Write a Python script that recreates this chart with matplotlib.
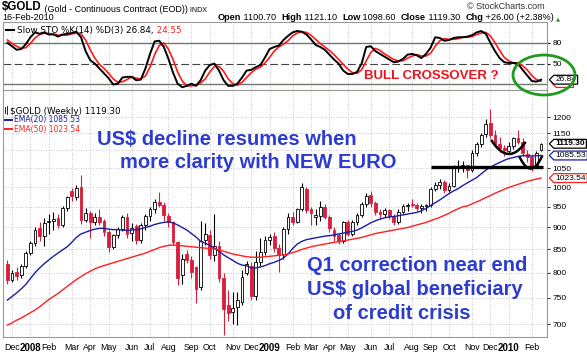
import numpy as np
import pandas as pd
import matplotlib
matplotlib.use("Agg")
import matplotlib.pyplot as plt
from matplotlib.path import Path
from matplotlib.patches import Ellipse
from matplotlib.ticker import FixedLocator, NullLocator, FixedFormatter

# weekly bars, last one is the week in progress (16-Feb-2010)
weeks = pd.date_range("2007-11-30", "2010-02-19", freq="W-FRI")

opens = [818, 786, 802, 795, 815, 843, 864, 898, 881, 913,
         915, 922, 905, 946, 990, 975, 1000, 918, 934, 912,
         925, 915, 890, 855, 882, 896, 925, 888, 903, 872,
         905, 928, 945, 963, 955, 928, 912, 866, 795, 840,
         828, 812, 770, 872, 882, 838, 858, 790, 735, 722,
         732, 742, 800, 815, 752, 823, 845, 872, 880, 853,
         840, 896, 926, 914, 945, 995, 945, 925, 928, 950,
         924, 895, 882, 870, 912, 886, 914, 930, 958, 980,
         960, 937, 932, 942, 928, 912, 938, 952, 958, 955,
         946, 952, 955, 996, 1005, 1012, 992, 1003, 1050, 1055,
         1058, 1045, 1092, 1118, 1148, 1180, 1145, 1120, 1108, 1098,
         1112, 1137, 1125, 1090, 1080, 1058, 1100.70]
highs = [826, 806, 812, 818, 846, 870, 900, 914, 922, 932,
         938, 932, 952, 978, 998, 1005, 1033, 948, 940, 935,
         945, 920, 895, 886, 900, 930, 935, 910, 908, 910,
         932, 950, 970, 988, 962, 935, 915, 870, 840, 848,
         835, 815, 915, 910, 895, 932, 868, 800, 765, 760,
         760, 805, 825, 822, 846, 875, 880, 885, 890, 862,
         900, 935, 938, 948, 1010, 1000, 950, 945, 965, 958,
         930, 900, 888, 915, 918, 918, 935, 962, 985, 990,
         965, 945, 948, 945, 932, 945, 958, 960, 970, 960,
         958, 958, 1000, 1012, 1020, 1018, 1010, 1058, 1072, 1070,
         1060, 1100, 1125, 1152, 1195, 1226, 1160, 1140, 1115, 1125,
         1140, 1160, 1135, 1100, 1090, 1098, 1121.10]
lows = [776, 781, 786, 790, 810, 838, 858, 868, 858, 885,
        895, 898, 900, 940, 965, 968, 908, 912, 876, 905,
        905, 880, 845, 850, 875, 892, 875, 868, 862, 865,
        895, 915, 935, 950, 915, 900, 860, 775, 777, 820,
        790, 740, 765, 860, 830, 825, 780, 681, 705, 700,
        698, 735, 795, 745, 745, 815, 838, 860, 845, 802,
        830, 885, 905, 910, 940, 935, 905, 905, 915, 920,
        890, 870, 862, 865, 880, 880, 905, 925, 950, 950,
        930, 920, 925, 920, 905, 908, 932, 940, 950, 940,
        935, 940, 950, 990, 995, 985, 988, 1000, 1040, 1040,
        1025, 1040, 1085, 1110, 1140, 1135, 1110, 1095, 1085, 1090,
        1105, 1120, 1085, 1068, 1044, 1050, 1098.60]
closes = [785, 800, 794, 814, 842, 865, 895, 880, 911, 916,
          921, 905, 946, 975, 978, 998, 918, 934, 912, 925,
          912, 890, 855, 882, 896, 925, 886, 898, 872, 905,
          928, 945, 963, 955, 930, 912, 866, 790, 830, 828,
          802, 767, 870, 885, 838, 858, 790, 728, 720, 730,
          745, 792, 818, 752, 823, 845, 872, 878, 853, 840,
          896, 926, 914, 945, 1000, 942, 935, 930, 950, 924,
          898, 880, 868, 912, 886, 914, 930, 958, 978, 960,
          937, 932, 942, 928, 912, 938, 952, 955, 955, 946,
          952, 955, 996, 1006, 1012, 992, 1003, 1050, 1055, 1058,
          1045, 1092, 1118, 1145, 1178, 1145, 1120, 1108, 1100, 1112,
          1137, 1125, 1092, 1080, 1055, 1093.30, 1119.30]

ema20 = [745, 752, 759, 767, 776, 788, 800, 810, 819, 827,
         835, 842, 849, 856, 866, 877, 885, 889, 893, 896,
         898, 898, 896, 895, 895, 894, 893, 894, 895, 897,
         900, 903, 907, 910, 912, 913, 911, 906, 900, 894,
         886, 878, 868, 864, 859, 853, 846, 838, 832, 826,
         820, 816, 815, 810, 810, 812, 815, 819, 822, 826,
         831, 840, 852, 862, 868, 872, 874, 876, 878, 880,
         881, 883, 885, 887, 889, 891, 894, 899, 905, 911,
         916, 920, 923, 925, 926, 928, 930, 932, 934, 936,
         940, 946, 953, 960, 967, 975, 983, 990, 996, 1004,
         1011, 1018, 1025, 1035, 1045, 1053, 1060, 1066, 1072, 1077,
         1080, 1083, 1085, 1085, 1084, 1085, 1085.53]
ema50 = [698, 702, 707, 711, 716, 721, 726, 732, 739, 746,
         752, 758, 765, 772, 779, 786, 792, 798, 803, 808,
         812, 815, 818, 821, 824, 827, 830, 833, 836, 839,
         842, 846, 850, 854, 857, 859, 860, 859, 858, 857,
         856, 855, 854, 853, 852, 851, 849, 846, 843, 840,
         838, 836, 834, 833, 833, 833, 834, 835, 836, 837,
         838, 840, 843, 846, 850, 853, 856, 858, 860, 862,
         864, 866, 867, 869, 871, 873, 875, 877, 880, 883,
         886, 888, 890, 892, 894, 896, 898, 900, 903, 906,
         909, 912, 916, 920, 924, 929, 934, 940, 945, 950,
         952, 957, 962, 967, 973, 978, 984, 989, 994, 999,
         1003, 1007, 1011, 1015, 1018, 1021, 1023.54]

sto_k = [80, 75, 70, 71, 78, 88, 95, 93, 95, 92,
         92, 89, 92, 93, 94, 96, 88, 68, 55, 50,
         43, 36, 29, 20, 21, 30, 31, 31, 26, 27,
         43, 64, 82, 83, 74, 57, 37, 21, 16, 18,
         21, 18, 26, 40, 48, 50, 40, 26, 18, 18,
         21, 30, 40, 41, 45, 48, 59, 71, 74, 76,
         84, 90, 95, 97, 96, 92, 85, 77, 74, 70,
         63, 56, 50, 40, 35, 35, 38, 50, 74, 75,
         68, 64, 60, 56, 52, 53, 57, 63, 64, 62,
         58, 64, 73, 88, 87, 83, 84, 87, 88, 88,
         89, 91, 95, 97, 93, 80, 68, 58, 52, 51,
         51, 50, 41, 33, 25, 24, 26.84]
sto_d = [84, 79, 75, 72, 73, 79, 87, 92, 94, 93,
         93, 91, 91, 91, 93, 94, 93, 84, 70, 58,
         49, 43, 36, 28, 23, 24, 27, 31, 29, 28,
         32, 45, 63, 76, 80, 71, 56, 38, 25, 18,
         18, 19, 22, 28, 38, 46, 46, 39, 28, 21,
         19, 23, 30, 37, 42, 45, 51, 59, 68, 74,
         78, 83, 90, 94, 96, 95, 91, 85, 79, 74,
         69, 63, 56, 49, 42, 37, 36, 41, 54, 66,
         72, 69, 64, 60, 56, 54, 54, 58, 61, 63,
         61, 61, 65, 75, 83, 86, 85, 85, 86, 88,
         88, 89, 92, 94, 95, 90, 80, 69, 59, 54,
         51, 51, 47, 41, 33, 27, 24.55]

month_labels = ["Dec", "2008", "Feb", "Mar", "Apr", "May", "Jun", "Jul", "Aug",
                "Sep", "Oct", "Nov", "Dec", "2009", "Feb", "Mar", "Apr", "May",
                "Jun", "Jul", "Aug", "Sep", "Oct", "Nov", "Dec", "2010", "Feb"]
price_ticks = [700, 750, 800, 850, 900, 950, 1000, 1050, 1100, 1150, 1200]
price_labels = ["700", "750", "800", "850", "900", "950", "1000", "1050", "", "1150", "1200"]

# ---------------------------------------------------------------
W, H = 587, 355
fx = lambda x: x / W
fy = lambda y: 1 - y / H

RED = "#d81e3c"
BLUE_TXT = "#2b3ccf"
GRID = "#bcaec4"
SANS = "Liberation Sans"

fig = plt.figure(figsize=(W / 100, H / 100), dpi=100)
fig.patch.set_facecolor("white")
L, R = 3, 547
ax_s = fig.add_axes([fx(L), fy(90), (R - L) / W, 68 / H])
ax = fig.add_axes([fx(L), fy(337), (R - L) / W, 247 / H])

x = np.arange(len(weeks))
o, h, l, c = map(np.array, (opens, highs, lows, closes))
mstart = [i for i in range(1, len(weeks)) if weeks[i].month != weeks[i - 1].month]

for a in (ax, ax_s):
    a.set_xlim(-0.96, 117.3)
    a.set_xticks(mstart)
    a.grid(True, axis="x", ls=(0, (1, 2)), color=GRID, lw=0.6)
    for s in a.spines.values():
        s.set_color("#9a9a9a")
        s.set_linewidth(0.8)
    a.set_axisbelow(True)

# --- price panel
ax.set_yscale("log")
ax.set_ylim(676.7, 1287.5)
ax.yaxis.set_major_locator(FixedLocator(price_ticks))
ax.yaxis.set_major_formatter(FixedFormatter(price_labels))
ax.yaxis.set_minor_locator(NullLocator())
ax.yaxis.tick_right()
ax.tick_params(axis="y", length=2, labelsize=6, pad=2, colors="#333333", labelcolor="black")
ax.grid(True, axis="y", ls=(0, (1, 2)), color=GRID, lw=0.6)
ax.set_xticklabels(month_labels)
ax.tick_params(axis="x", length=0, labelsize=6.3, pad=4)
for t in ax.get_xticklabels():
    t.set_family(SANS)
    if t.get_text().isdigit():
        t.set_fontweight("bold")
        t.set_fontsize(7)
for t in ax.get_yticklabels():
    t.set_family(SANS)

up = c >= o
wick_col = np.where(up, "black", RED)
ax.vlines(x, l, h, colors=wick_col, lw=0.8, zorder=3)
body_lo = np.minimum(o, c)
body_h = np.maximum(np.abs(c - o), 0.8)
ax.bar(x, body_h, bottom=body_lo, width=0.62, color=np.where(up, "white", RED),
       edgecolor=wick_col, lw=0.6, zorder=4)

ax.plot(x, ema20, color="#1c1ca6", lw=1.0, zorder=5)
ax.plot(x, ema50, color="#ff1f1f", lw=1.0, zorder=5)

# support line and the two rounded bottoms
ax.plot([92.1, 116.5], [1054, 1054], color="black", lw=2.4, zorder=6, solid_capstyle="butt")
for (x0, y0), (x1, y1), (x2, y2) in [((105.3, 1128), (108.9, 1090), (112.5, 1122)),
                                      ((111.4, 1080), (114.3, 1051), (116.2, 1083))]:
    coef = np.polyfit([x0, x1, x2], np.log([y0, y1, y2]), 2)
    xs = np.linspace(x0, x2, 40)
    ax.plot(xs, np.exp(np.polyval(coef, xs)), color="black", lw=1.8, zorder=6)


def tag_box(x0, y0, width, height, mutation_size):
    p = 0.22 * mutation_size
    x0, y0, width, height = x0 - p, y0 - 0.5 * p, width + 1.6 * p, height + p
    tip = height / 2
    verts = [(x0 - tip, y0 + tip), (x0, y0), (x0 + width, y0), (x0 + width, y0 + height),
             (x0, y0 + height), (x0 - tip, y0 + tip)]
    codes = [Path.MOVETO] + [Path.LINETO] * 4 + [Path.CLOSEPOLY]
    return Path(verts, codes)


def tag(a, value, text, ec, weight="normal", z=10, dx=6.2):
    a.annotate(text, xy=(1, value), xycoords=("axes fraction", "data"), xytext=(dx, 0),
               textcoords="offset points", ha="left", va="center", fontsize=6,
               family=SANS, fontweight=weight, annotation_clip=False, zorder=z,
               bbox=dict(boxstyle=tag_box, fc="white", ec=ec, lw=0.9))


tag(ax, closes[-1], f"{closes[-1]:.2f}", "black", "bold")
tag(ax, ema20[-1], f"{ema20[-1]:.2f}", "#1c1ca6")
tag(ax, ema50[-1], f"{ema50[-1]:.2f}", "#ff1f1f")

# --- slow stochastic panel
ax_s.set_ylim(12, 110)
ax_s.set_xticklabels([])
ax_s.tick_params(axis="x", length=0)
ax_s.yaxis.tick_right()
ax_s.set_yticks([80, 50])
ax_s.set_yticklabels(["80", "50"], family=SANS)
ax_s.tick_params(axis="y", length=2, labelsize=6, pad=2)
ax_s.axhline(80, color="#6f7a6f", lw=1.0, zorder=1)
ax_s.axhline(20, color="#6f7a6f", lw=1.0, zorder=1)
ax_s.axhline(50, color="#444444", lw=0.8, ls=(0, (7, 3)), zorder=1)
ax_s.plot(x, sto_d, color="#ff1a1a", lw=1.2, zorder=3)
ax_s.plot(x, sto_k, color="black", lw=1.4, zorder=4)
# the %D tag sits behind the %K tag, only its red edge shows
tag(ax_s, sto_d[-1] - 2.5, "      ", "#ff1a1a", z=9, dx=8)
tag(ax_s, sto_k[-1], f"{sto_k[-1]:.2f}", "black", z=10)

# --- header texts
def chain(parts, x0, base, family=SANS):
    prev = fig.text(fx(x0), fy(base), parts[0][0], fontsize=parts[0][1], fontweight=parts[0][2],
                    color=parts[0][3], family=family, va="baseline")
    for txt, size, weight, color, gap in [p + (0,) * (5 - len(p)) for p in parts[1:]]:
        prev = ax.annotate(txt, xy=(1, 0), xycoords=prev, xytext=(gap, 0),
                           textcoords="offset points", fontsize=size, fontweight=weight,
                           color=color, family=family, va="bottom", annotation_clip=False)
    return prev


chain([("$GOLD", 8.3, "bold", "black"),
       (" (Gold - Continuous Contract (EOD))", 6.5, "normal", "black", 0),
       (" INDX", 5, "normal", "black", 0)], 2, 10.5)
fig.text(fx(2), fy(20.5), "16-Feb-2010", fontsize=6.5, family=SANS, va="baseline")
fig.text(fx(545), fy(9), "\u00a9 StockCharts.com", fontsize=6.5, family=SANS, va="baseline",
         ha="right", color="#333333")
hdr = [("Open", "bold"), (" 1100.70  ", "normal"), ("High", "bold"), (" 1121.10  ", "normal"),
       ("Low", "bold"), (" 1098.60  ", "normal"), ("Close", "bold"), (" 1119.30  ", "normal"),
       ("Chg", "bold"), (" +26.00 (+2.38%)", "normal")]
last = chain([(t, 6.6, w, "black", 0) for t, w in hdr], 218, 20.5)
ax.annotate("\u25b2", xy=(1, 0), xycoords=last, xytext=(1.5, 0.5), textcoords="offset points",
            fontsize=3.8, color="#2a8a2a", family="DejaVu Sans", va="bottom", annotation_clip=False)

# legends
fig.lines.append(plt.Line2D([fx(6), fx(14)], [fy(30), fy(30)], color="black", lw=1.5,
                            transform=fig.transFigure))
chain([("Slow STO %K(14) %D(3) 26.84,", 6.3, "normal", "black"),
       (" 24.55", 6.3, "normal", "#ff1a1a", 0)], 17, 33, family="DejaVu Sans")

fig.text(fx(10), fy(113.5), "$GOLD (Weekly) 1119.30", fontsize=6.3, family="DejaVu Sans",
         va="baseline")
fig.lines.append(plt.Line2D([fx(6.5), fx(6.5)], [fy(114), fy(106)], color="black", lw=0.6,
                            transform=fig.transFigure))
fig.lines.append(plt.Line2D([fx(4.5), fx(4.5)], [fy(113), fy(107)], color="black", lw=0.6,
                            transform=fig.transFigure))
fig.lines.append(plt.Line2D([fx(5), fx(12)], [fy(119.5), fy(119.5)], color="#1c1ca6", lw=1.4,
                            transform=fig.transFigure))
fig.text(fx(14), fy(122.3), "EMA(20) 1085.53", fontsize=5.5, family="DejaVu Sans",
         va="baseline", color="#1c1ca6")
fig.lines.append(plt.Line2D([fx(5), fx(12)], [fy(128.8), fy(128.8)], color="#ff1f1f", lw=1.4,
                            transform=fig.transFigure))
fig.text(fx(14), fy(131.7), "EMA(50) 1023.54", fontsize=5.5, family="DejaVu Sans",
         va="baseline", color="#ff1f1f")

# commentary
big = dict(fontsize=14.5, fontweight="bold", color=BLUE_TXT, family=SANS, va="baseline")
fig.text(fx(97), fy(145), "US$ decline resumes when", **big)
fig.text(fx(120), fy(168), "more clarity with NEW EURO", **big)
fig.text(fx(307), fy(271), "Q1 correction near end", **big)
fig.text(fx(307), fy(295), "US$ global beneficiary", **big)
fig.text(fx(333), fy(319), "of credit crisis", **big)
fig.text(fx(364), fy(79), "BULL CROSSOVER ?", fontsize=9.5, fontweight="bold",
         color="#e8141e", family=SANS, va="baseline")

fig.patches.append(Ellipse((fx(544), fy(75)), 62 / W, 40 / H, transform=fig.transFigure,
                           fill=False, ec="#1f9a1f", lw=2.0, zorder=20))

fig.savefig("out.png", dpi=100, facecolor="white")
